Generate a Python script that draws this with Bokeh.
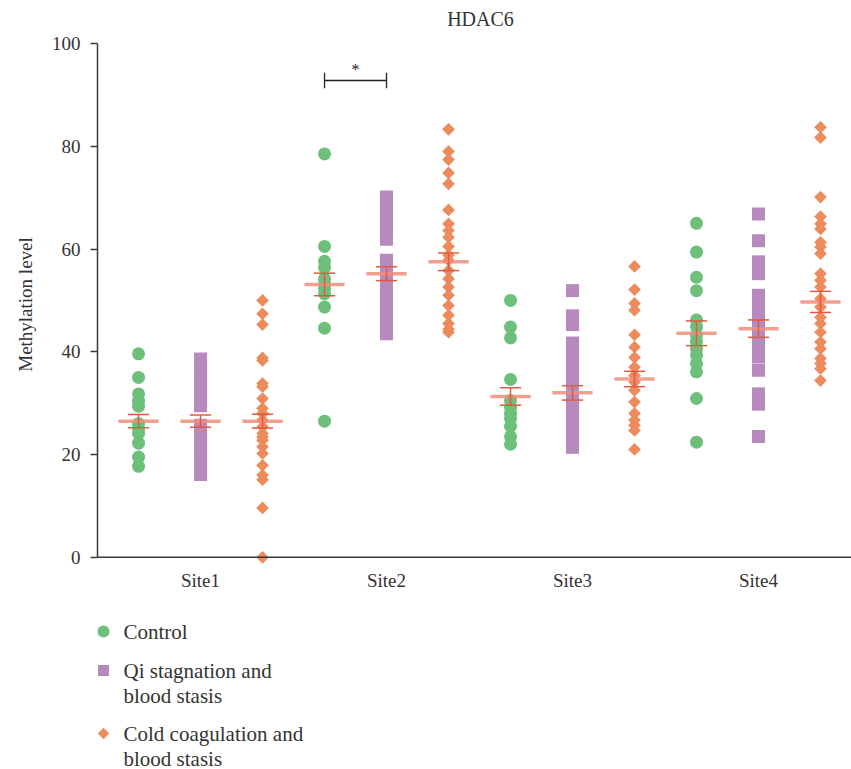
import math
from bokeh.plotting import figure
from bokeh.layouts import column
from bokeh.models import Range1d, FixedTicker, ColumnDataSource, Span
from bokeh.core.properties import value
from bokeh.embed import file_html
from bokeh.resources import INLINE

# ---------------- data ----------------
title_text = "HDAC6"
sites = ["Site1", "Site2", "Site3", "Site4"]
groups = ["Control", "Qi stagnation and\nblood stasis", "Cold coagulation and\nblood stasis"]

control = [
    [39.6, 35.0, 31.8, 30.4, 29.4, 26.0, 25.0, 24.1, 22.2, 19.5, 17.7],
    [78.5, 60.5, 57.6, 56.4, 54.2, 53.2, 52.3, 51.3, 48.7, 44.6, 26.5],
    [50.0, 44.8, 42.7, 34.6, 30.5, 29.2, 28.0, 27.0, 25.5, 23.5, 22.0],
    [65.0, 59.4, 54.5, 51.9, 46.2, 44.8, 43.2, 41.9, 40.6, 39.3, 37.7, 36.1, 30.9, 22.4],
]
qi = [
    [38.6, 36.2, 33.8, 31.4, 29.5, 25.7, 23.3, 21.0, 18.6, 16.1],
    [70.1, 67.7, 65.3, 63.0, 61.9, 57.8, 55.4, 53.0, 50.6, 48.2, 45.8, 43.5],
    [51.9, 47.0, 45.3, 41.7, 39.3, 36.9, 34.5, 32.1, 29.7, 27.3, 24.9, 22.6, 21.4],
    [66.8, 61.6, 57.5, 55.2, 51.0, 48.6, 46.2, 43.8, 41.4, 39.0, 36.4, 31.8, 29.8, 23.5],
]
cold = [
    [50.0, 47.4, 45.3, 38.8, 38.3, 33.8, 33.2, 30.9, 29.0, 28.0, 26.7, 25.4, 24.1, 23.4,
     22.8, 21.5, 20.2, 17.9, 16.0, 15.1, 9.6, 0.0],
    [83.3, 79.0, 77.4, 74.8, 72.7, 67.6, 64.9, 63.6, 62.3, 60.5, 58.8, 57.8, 55.8, 54.2,
     52.6, 51.0, 49.0, 47.1, 45.5, 44.4, 43.8],
    [56.6, 52.1, 49.4, 48.1, 43.3, 40.9, 38.9, 37.0, 35.4, 34.1, 32.5, 30.2, 28.0, 26.7,
     25.7, 24.7, 21.0],
    [83.7, 81.7, 70.1, 66.3, 64.9, 63.9, 61.3, 60.4, 59.1, 55.2, 53.9, 52.6, 50.3, 48.7,
     46.7, 45.5, 43.8, 41.9, 40.6, 38.7, 37.7, 36.7, 34.4],
]
means = [
    [26.5, 53.1, 31.3, 43.6],
    [26.5, 55.2, 32.0, 44.5],
    [26.5, 57.5, 34.7, 49.7],
]
sems = [
    [1.3, 2.2, 1.7, 2.4],
    [1.2, 1.35, 1.4, 1.7],
    [1.35, 1.7, 1.5, 2.05],
]
yticks = [0, 20, 40, 60, 80, 100]
sig_pair = (1, 0, 1)  # site index, group a, group b
sig_y = 92.8
sig_text = "*"

colors = ["#6cc07a", "#b78abd", "#ec8b5b"]
offsets = [-1 / 3, 0.0, 1 / 3]
FONT = "Liberation Serif"
TXT = "#333333"
AXC = "#3a3a3a"


def blank_panel(h):
    f = figure(frame_width=754, frame_height=h, output_backend="svg", toolbar_location=None,
               x_range=Range1d(97, 851), y_range=Range1d(h, 0),
               x_axis_type=None, y_axis_type=None,
               min_border_left=97, min_border_right=0, min_border_top=0, min_border_bottom=0)
    f.grid.grid_line_color = None
    f.outline_line_color = None
    return f


# ---------------- title panel ----------------
tp = blank_panel(30)
tp.text(x=[480], y=[18], text=[title_text], text_align="center", text_baseline="middle",
        text_font=value(FONT), text_font_size="20px", text_color=TXT)

# ---------------- main figure ----------------
p = figure(width=851, height=570, output_backend="svg", toolbar_location=None,
           x_range=Range1d(-0.554, 3.5), y_range=Range1d(-1.6, 100),
           min_border_left=97, min_border_right=0, min_border_top=13, min_border_bottom=35)
p.outline_line_color = None
p.grid.grid_line_color = None
p.background_fill_color = "white"
p.border_fill_color = "white"

p.xaxis.ticker = FixedTicker(ticks=[0, 1, 2, 3])
p.xaxis.major_label_overrides = {i: s for i, s in enumerate(sites)}
p.xaxis.minor_tick_line_color = None
p.xaxis.major_tick_line_color = None
p.xaxis.axis_line_color = None
p.xaxis.major_label_standoff = -2
p.yaxis.ticker = FixedTicker(ticks=yticks)
p.yaxis.bounds = (0, 100)
p.yaxis.major_tick_out = 7
p.yaxis.major_tick_in = 0
p.yaxis.minor_tick_line_color = None
p.yaxis.major_label_standoff = 10
p.yaxis.axis_label = "Methylation level"
p.yaxis.axis_label_standoff = 13
p.yaxis.axis_line_color = AXC
p.yaxis.axis_line_width = 1.5
p.yaxis.major_tick_line_color = AXC
p.yaxis.major_tick_line_width = 1.5
for ax in (p.xaxis, p.yaxis):
    ax.major_label_text_font = FONT
    ax.major_label_text_font_size = "19px"
    ax.major_label_text_color = TXT
    ax.axis_label_text_font = FONT
    ax.axis_label_text_font_style = "normal"
    ax.axis_label_text_font_size = "19px"
    ax.axis_label_text_color = TXT

p.add_layout(Span(location=0, dimension="width", line_color=AXC, line_width=1.5))

series = [control, qi, cold]
for g, data in enumerate(series):
    xs, ys = [], []
    for i, vals in enumerate(data):
        xs += [i + offsets[g]] * len(vals)
        ys += vals
    src = ColumnDataSource(dict(x=xs, y=ys))
    if g == 0:
        p.scatter("x", "y", source=src, marker="circle", size=13,
                  fill_color=colors[g], line_color=None)
    elif g == 1:
        p.scatter("x", "y", source=src, marker="square", size=13,
                  fill_color=colors[g], line_color=None)
    else:
        p.scatter("x", "y", source=src, marker="square", size=9, angle=math.pi / 4,
                  fill_color=colors[g], line_color=None)

# mean lines and SEM error bars
mw, cw = 0.108, 0.057
for g in range(3):
    xc = [i + offsets[g] for i in range(4)]
    m = means[g]
    s = sems[g]
    p.segment(x0=[x - mw for x in xc], x1=[x + mw for x in xc], y0=m, y1=m,
              line_color="#ef8f7c", line_alpha=0.85, line_width=3.5)
    p.segment(x0=xc, x1=xc, y0=[a - b for a, b in zip(m, s)], y1=[a + b for a, b in zip(m, s)],
              line_color="#e4583f", line_width=1.5)
    for sign in (1, -1):
        yy = [a + sign * b for a, b in zip(m, s)]
        p.segment(x0=[x - cw for x in xc], x1=[x + cw for x in xc], y0=yy, y1=yy,
                  line_color="#e4583f", line_width=1.5)

# significance bracket
si, ga, gb = sig_pair
xa, xb = si + offsets[ga], si + offsets[gb]
p.segment(x0=[xa], x1=[xb], y0=[sig_y], y1=[sig_y], line_color="#222222", line_width=1.3)
p.segment(x0=[xa, xb], x1=[xa, xb], y0=[sig_y - 1.5] * 2, y1=[sig_y + 1.5] * 2,
          line_color="#222222", line_width=1.3)
p.text(x=[(xa + xb) / 2], y=[sig_y + 0.4], text=[sig_text], text_align="center",
       text_baseline="bottom", text_font=value(FONT), text_font_size="16px",
       text_color="#222222")

# ---------------- legend panel ----------------
lg = blank_panel(169)
row_y = [31, 70, 133]
lg.scatter([103], [row_y[0]], marker="circle", size=12, fill_color=colors[0], line_color=None)
lg.scatter([103], [row_y[1]], marker="square", size=11, fill_color=colors[1], line_color=None)
lg.scatter([103], [row_y[2]], marker="square", size=8, angle=math.pi / 4,
           fill_color=colors[2], line_color=None)
for gname, y0 in zip(groups, row_y):
    for k, line in enumerate(gname.split("\n")):
        lg.text(x=[123], y=[y0 + k * 25], text=[line], text_align="left",
                text_baseline="middle", text_font=value(FONT), text_font_size="21px",
                text_color=TXT)

layout = column(tp, p, lg, spacing=0)
open("out.html", "w").write(file_html(layout, INLINE))
